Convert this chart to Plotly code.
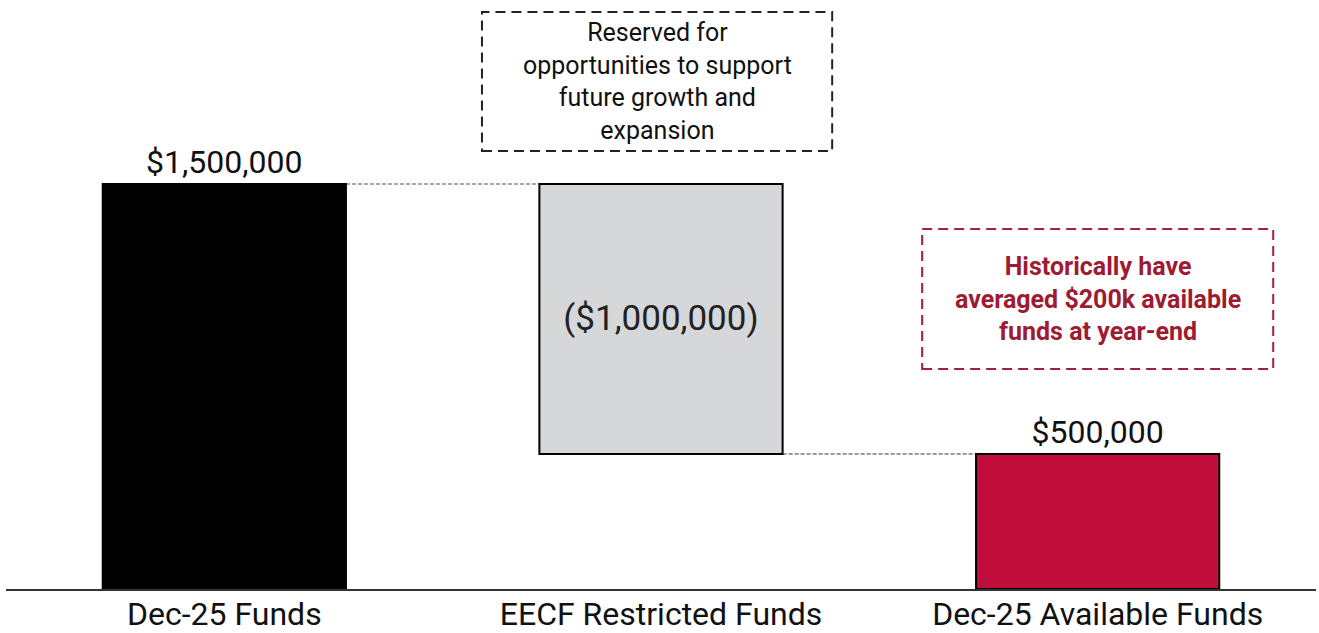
import plotly.graph_objects as go

categories = ["Dec-25 Funds", "EECF Restricted Funds", "Dec-25 Available Funds"]
amounts = [1500000, 1000000, 500000]
bases = [0, 500000, 0]
labels = ["$1,500,000", "($1,000,000)", "$500,000"]
bar_colors = ["#000000", "#d6d7d9", "#c00d3c"]

note_left = "Reserved for<br>opportunities to support<br>future growth and<br>expansion"
note_right = "Historically have<br>averaged $200k available<br>funds at year-end"

BAR_W = 0.557
FONT = "Roboto"

fig = go.Figure()
fig.add_trace(go.Bar(
    x=list(range(len(categories))), y=amounts, base=bases,
    width=BAR_W,
    marker=dict(color=bar_colors, line=dict(color="#000000", width=2)),
    text=labels,
    textposition=["outside", "inside", "outside"],
    insidetextanchor="middle",
    textangle=0,
    outsidetextfont=dict(size=32, color="#111111", family=FONT),
    insidetextfont=dict(size=35, color="#222222", family=FONT),
    cliponaxis=False,
    hoverinfo="skip",
))

# connector lines between bars
tops = [b + a for a, b in zip(amounts, bases)]
fig.add_shape(type="line", x0=0 + BAR_W / 2, x1=1 - BAR_W / 2, y0=tops[0], y1=tops[0],
              line=dict(color="#8a8a8a", width=1.5, dash="4px,2px"), layer="below")
fig.add_shape(type="line", x0=1 + BAR_W / 2, x1=2 - BAR_W / 2, y0=bases[1], y1=bases[1],
              line=dict(color="#333333", width=1, dash="4px,2px"), layer="below")

# dashed note boxes
fig.add_shape(type="rect", x0=0.59, x1=1.392, y0=1622000, y1=2137000,
              line=dict(color="#222222", width=2, dash="10px,6px"))
fig.add_shape(type="rect", x0=1.598, x1=2.402, y0=815000, y1=1333000,
              line=dict(color="#a5213a", width=2, dash="10px,6px"))

fig.add_annotation(x=0.991, y=1879500, text=note_left, showarrow=False,
                   font=dict(size=25, color="#111111", family=FONT), align="center")
fig.add_annotation(x=2.0, y=1074000, text="<b>" + note_right + "</b>", showarrow=False,
                   font=dict(size=25, color="#9e1b32", family=FONT), align="center")

fig.update_layout(
    width=1319, height=633,
    margin=dict(l=6, r=3, t=10, b=44),
    plot_bgcolor="white", paper_bgcolor="white",
    showlegend=False,
    font=dict(family=FONT),
    xaxis=dict(
        tickmode="array", tickvals=list(range(len(categories))), ticktext=categories,
        range=[-0.5, 2.5], showline=True, linecolor="#333333", linewidth=1.5,
        showgrid=False, zeroline=False, ticks="", automargin=False,
        ticklabelstandoff=-4,
        tickfont=dict(size=32, color="#111111", family=FONT),
    ),
    yaxis=dict(range=[0, 2144000], visible=False, showgrid=False, zeroline=False),
)

fig.write_html("out.html", config={"displayModeBar": False},
               post_script="document.body.style.margin='0';")
